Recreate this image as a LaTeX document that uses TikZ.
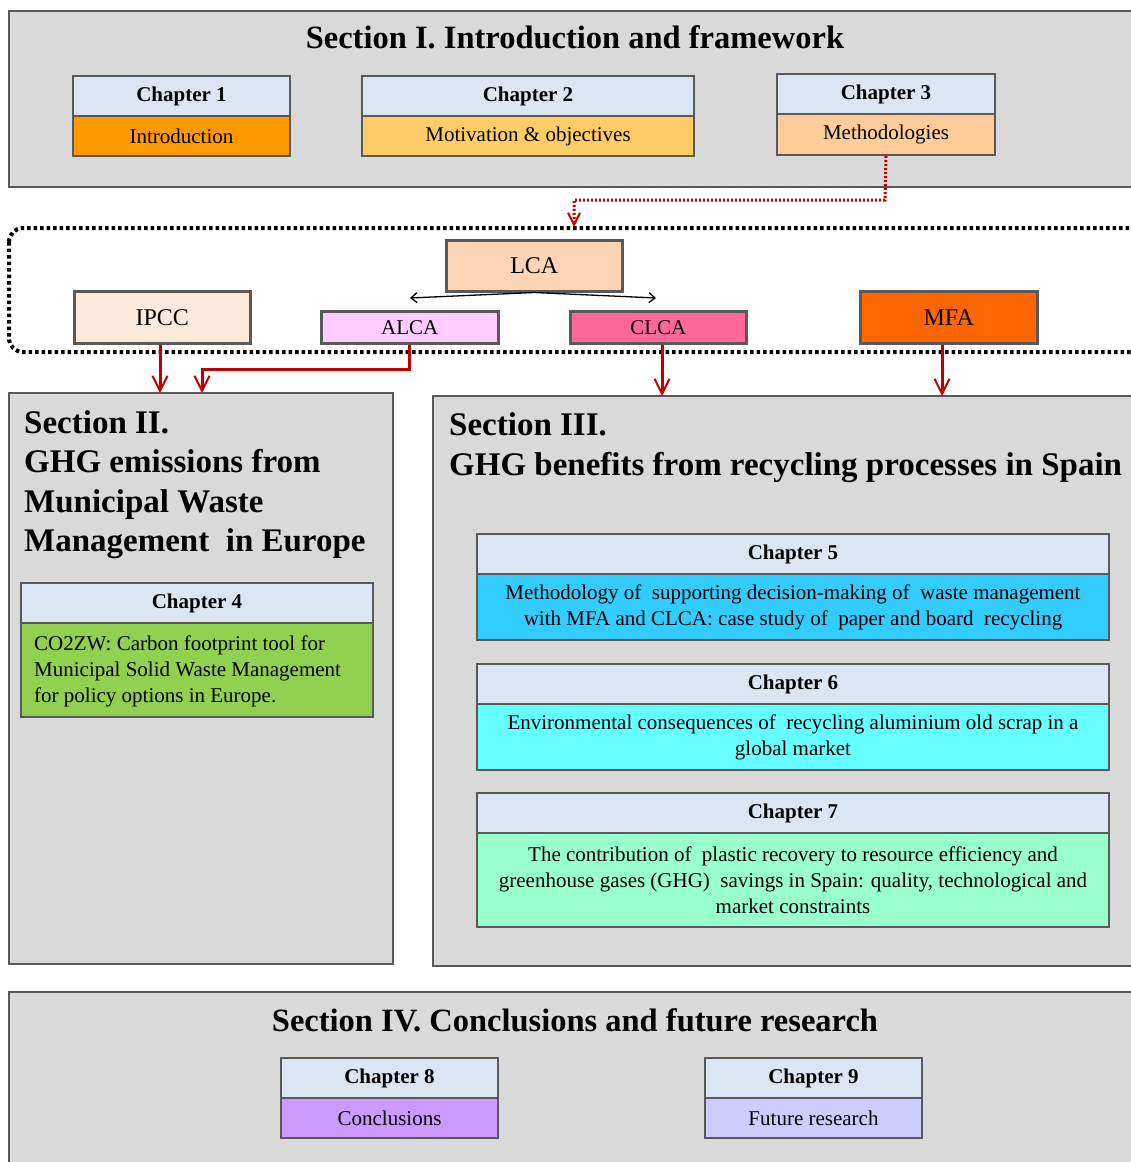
\documentclass[tikz,border=0pt]{standalone}
\usepackage{fontspec}
\setmainfont{Liberation Serif}
\usetikzlibrary{arrows.meta}
\definecolor{secfill}{HTML}{D9D9D9}
\definecolor{edge}{HTML}{595959}
\definecolor{hdrfill}{HTML}{DCE6F2}
\definecolor{darkred}{HTML}{C00000}
\definecolor{cIntro}{HTML}{FF9900}
\definecolor{cMotiv}{HTML}{FFCC66}
\definecolor{cMeth}{HTML}{FFCC99}
\definecolor{cLCA}{HTML}{FBD5B5}
\definecolor{cIPCC}{HTML}{FDE9D9}
\definecolor{cALCA}{HTML}{FFCCFF}
\definecolor{cCLCA}{HTML}{FF6699}
\definecolor{cMFA}{HTML}{FF6600}
\definecolor{cFour}{HTML}{92D050}
\definecolor{cFive}{HTML}{33CCFF}
\definecolor{cSix}{HTML}{66FFFF}
\definecolor{cSeven}{HTML}{99FFCC}
\definecolor{cEight}{HTML}{CC99FF}
\definecolor{cNine}{HTML}{CCCCFF}
\begin{document}
\begin{tikzpicture}[x=1pt,y=-1pt,
  section/.style={draw=edge,line width=2pt,fill=secfill},
  hdr/.style={draw=edge,line width=2pt,fill=hdrfill,anchor=north west,inner sep=0pt,
    font=\fontsize{21}{23}\selectfont\bfseries},
  bodybox/.style={draw=edge,line width=2pt,anchor=north west,inner sep=0pt,
    font=\fontsize{21}{26}\selectfont,align=center},
  method/.style={draw=edge,line width=2.5pt,anchor=north west,inner sep=0pt,
    font=\fontsize{24}{26}\selectfont},
  sectitle/.style={font=\fontsize{32.5}{39}\selectfont\bfseries,inner sep=0pt},
  redarrow/.style={draw=darkred,line width=3pt,-{Straight Barb[length=15pt,width=15pt,line width=2pt]}},
]
\useasboundingbox (0,0) rectangle (1131,1162);
\clip (0,0) rectangle (1131,1162);

% ---------- Section I ----------
\draw[section] (9,11) rectangle (1145,187);
\node[sectitle] (t1) at (575,37) {Section I. Introduction and framework};
\node[hdr,minimum width=217pt,minimum height=40pt] (c1h) at (72,75) {Chapter 1};
\node[bodybox,fill=cIntro,minimum width=217pt,minimum height=40pt] (c1b) at (72,115) {Introduction};
\node[hdr,minimum width=332pt,minimum height=40pt] (c2h) at (361,75) {Chapter 2};
\node[bodybox,fill=cMotiv,minimum width=332pt,minimum height=40pt] (c2b) at (361,115) {Motivation \& objectives};
\node[hdr,minimum width=218pt,minimum height=40pt] (c3h) at (776,73) {Chapter 3};
\node[bodybox,fill=cMeth,minimum width=218pt,minimum height=41pt] (c3b) at (776,113) {Methodologies};

% ---------- methods band ----------
\draw[line width=4pt,dash pattern=on 3.5pt off 3pt,rounded corners=14pt] (9,228) rectangle (1160,352);
\node[method,fill=cLCA,minimum width=176pt,minimum height=51pt] (lca) at (445,239) {LCA};
\node[method,fill=cIPCC,minimum width=176pt,minimum height=52pt] (ipcc) at (73,290) {IPCC};
\node[method,fill=cALCA,minimum width=177pt,minimum height=32pt,font=\fontsize{21}{22}\selectfont] (alca) at (320,310) {ALCA};
\node[method,fill=cCLCA,minimum width=176pt,minimum height=32pt,font=\fontsize{21}{22}\selectfont] (clca) at (569,310) {CLCA};
\node[method,fill=cMFA,minimum width=177pt,minimum height=52pt] (mfa) at (859,290) {MFA};

\coordinate (ca) at (410,298);
\coordinate (cc) at (656,298);
\draw[line width=1.3pt,-{Straight Barb[length=6pt,width=10pt]}] (lca.south) -- (ca);
\draw[line width=1.3pt,-{Straight Barb[length=6pt,width=10pt]}] (lca.south) -- (cc);

\coordinate (dotend) at (574,227);
\draw[draw=darkred,line width=3pt,dash pattern=on 2pt off 2pt,-{Straight Barb[length=12pt,width=12pt,line width=2pt]}]
  (c3b.south) -- (885,200) -| (dotend);

% ---------- Section II ----------
\draw[section] (9,393) rectangle (393,964);
\node[sectitle,anchor=north west,align=left,font=\fontsize{33}{39.5}\selectfont\bfseries] (t2) at (24,410)
  {Section II.\\GHG emissions from\\Municipal Waste\\Management\ \ in Europe};
\node[hdr,minimum width=352pt,minimum height=40pt] (c4h) at (20,582) {Chapter 4};
\node[bodybox,fill=cFour,minimum width=352pt,minimum height=94pt] (c4b) at (20,622) {};
\node[anchor=west,inner sep=0pt,align=left,font=\fontsize{21}{26}\selectfont] (c4t) at (34,671)
  {CO2ZW: Carbon footprint tool for\\Municipal Solid Waste Management\\for policy options in Europe.};

% ---------- Section III ----------
\draw[section] (433,396) rectangle (1145,966);
\node[sectitle,anchor=north west,align=left,font=\fontsize{33}{40}\selectfont\bfseries] (t3) at (449,412)
  {Section III.\\GHG benefits from recycling processes in Spain};
\node[hdr,minimum width=632pt,minimum height=40pt] (c5h) at (476,533) {Chapter 5};
\node[bodybox,fill=cFive,minimum width=632pt,minimum height=66pt] (c5b) at (476,573)
  {Methodology of\ \ supporting decision-making of\ \ waste management\\with MFA and CLCA: case study of\ \ paper and board\ \ recycling};
\node[hdr,minimum width=632pt,minimum height=40pt] (c6h) at (476,663) {Chapter 6};
\node[bodybox,fill=cSix,minimum width=632pt,minimum height=66pt] (c6b) at (476,703)
  {Environmental consequences of\ \ recycling aluminium old scrap in a\\global market};
\node[hdr,minimum width=632pt,minimum height=40pt] (c7h) at (476,792) {Chapter 7};
\node[bodybox,fill=cSeven,minimum width=632pt,minimum height=94pt] (c7b) at (476,832)
  {The contribution of\ \ plastic recovery to resource efficiency and\\greenhouse gases (GHG)\ \ savings in Spain: quality, technological and\\market constraints};

% ---------- Section IV ----------
\draw[section] (9,992) rectangle (1145,1175);
\node[sectitle] (t4) at (575,1020) {Section IV. Conclusions and future research};
\node[hdr,minimum width=217pt,minimum height=40pt] (c8h) at (280,1057) {Chapter 8};
\node[bodybox,fill=cEight,minimum width=217pt,minimum height=40pt] (c8b) at (280,1097) {Conclusions};
\node[hdr,minimum width=217pt,minimum height=40pt] (c9h) at (704,1057) {Chapter 9};
\node[bodybox,fill=cNine,minimum width=217pt,minimum height=40pt] (c9b) at (704,1097) {Future research};

% ---------- red connectors ----------
\coordinate (s2a) at (160,393);
\coordinate (s2b) at (202,393);
\coordinate (s3a) at (662,396);
\coordinate (s3b) at (942,396);
\draw[redarrow] (ipcc.south -| s2a) -- (s2a);
\draw[redarrow] (alca.south) -- ++(0,25) -| (s2b);
\draw[redarrow] (clca.south -| s3a) -- (s3a);
\draw[redarrow] (mfa.south -| s3b) -- (s3b);
\end{tikzpicture}
\end{document}
